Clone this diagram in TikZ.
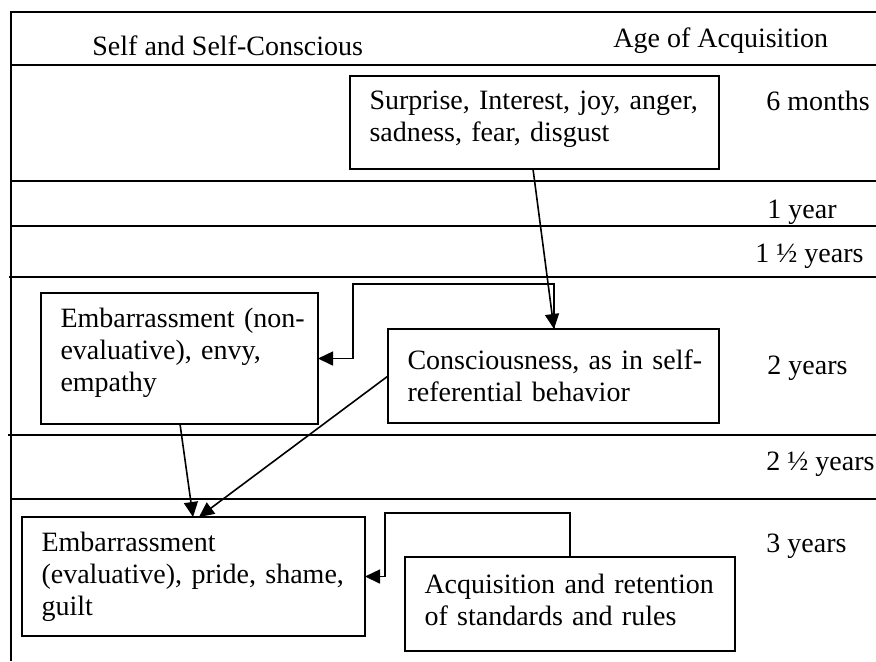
\documentclass[tikz,border=0pt]{standalone}
\usepackage{fontspec}
\setmainfont{Liberation Serif}
\usetikzlibrary{arrows.meta,calc}
\begin{document}
\begin{tikzpicture}[x=0.5pt,y=-0.5pt,
  rule/.style={line width=1pt},
  box/.style={draw,line width=1pt,anchor=north west,align=left,
    inner xsep=9.75pt,inner ysep=0pt,outer sep=0pt},
  conn/.style={line width=0.8pt,-{Triangle[length=7.5pt,width=7pt]}},
  lbl/.style={anchor=base west,inner sep=0pt},
  font=\fontsize{14}{16}\selectfont]
\useasboundingbox (0,0) rectangle (876,661);

% table frame and row rules
\draw[rule] (876,12) -- (11,12) -- (11,661);
\foreach \x/\y in {11/65,11/181,11/226,9/277,8/435,11/499}
  \draw[rule] (\x,\y) -- (876,\y);

% column headings
\node[lbl] (hself) at (92,55) {Self and Self-Conscious};
\node[lbl] (hage) at (613,47) {Age of Acquisition};

% ages
\node[lbl] (a6m) at (766,110) {6 months};
\node[lbl] (a1y) at (767,218) {1 year};
\node[lbl] (a15y) at (755,262) {1 ½ years};
\node[lbl] (a2y) at (767,374) {2 years};
\node[lbl] (a25y) at (766,470) {2 ½ years};
\node[lbl] (a3y) at (766,552) {3 years};

% emotion boxes (a trailing kern lifts the text block inside its frame)
\node[box,minimum width=184.5pt,minimum height=46.5pt,text width=165pt] (b1) at (350,76)
  {Surprise, Interest, joy, anger,\\ sadness, fear, disgust\par\kern3pt};
\node[box,minimum width=138.5pt,minimum height=65.5pt,text width=119pt] (b2) at (41,293)
  {\mbox{Embarrassment (non-}\\ \mbox{evaluative), envy,}\\ empathy\par\kern6pt};
\node[box,minimum width=165.5pt,minimum height=47pt,text width=146pt] (b3) at (388,329)
  {\mbox{Consciousness, as in self-}\\ referential behavior};
\node[box,minimum width=171.5pt,minimum height=59.5pt,text width=152pt] (b4) at (22,517)
  {Embarrassment\\ \mbox{(evaluative), pride, shame,}\\ guilt};
\node[box,minimum width=165pt,minimum height=47pt,text width=145.5pt] (b5) at (405,557)
  {\mbox{Acquisition and retention}\\ of standards and rules\par\kern4pt};

% connectors
\draw[conn] ($(b1.south west)+(183,0)$) -- ($(b3.north west)+(166,0)$);
\draw[conn] ($(b3.north west)+(166,0)$) -- ++(0,-45) -- ++(-201,0) |- (b2.east);
\draw[conn] ($(b2.south west)+(139,0)$) -- ($(b4.north west)+(171,0)$);
\draw[conn] (b3.west) -- ($(b4.north west)+(177,0)$);
\draw[conn] ($(b5.north west)+(165,0)$) -- ++(0,-44) -- ++(-185,0) |- (b4.east);
\end{tikzpicture}
\end{document}
